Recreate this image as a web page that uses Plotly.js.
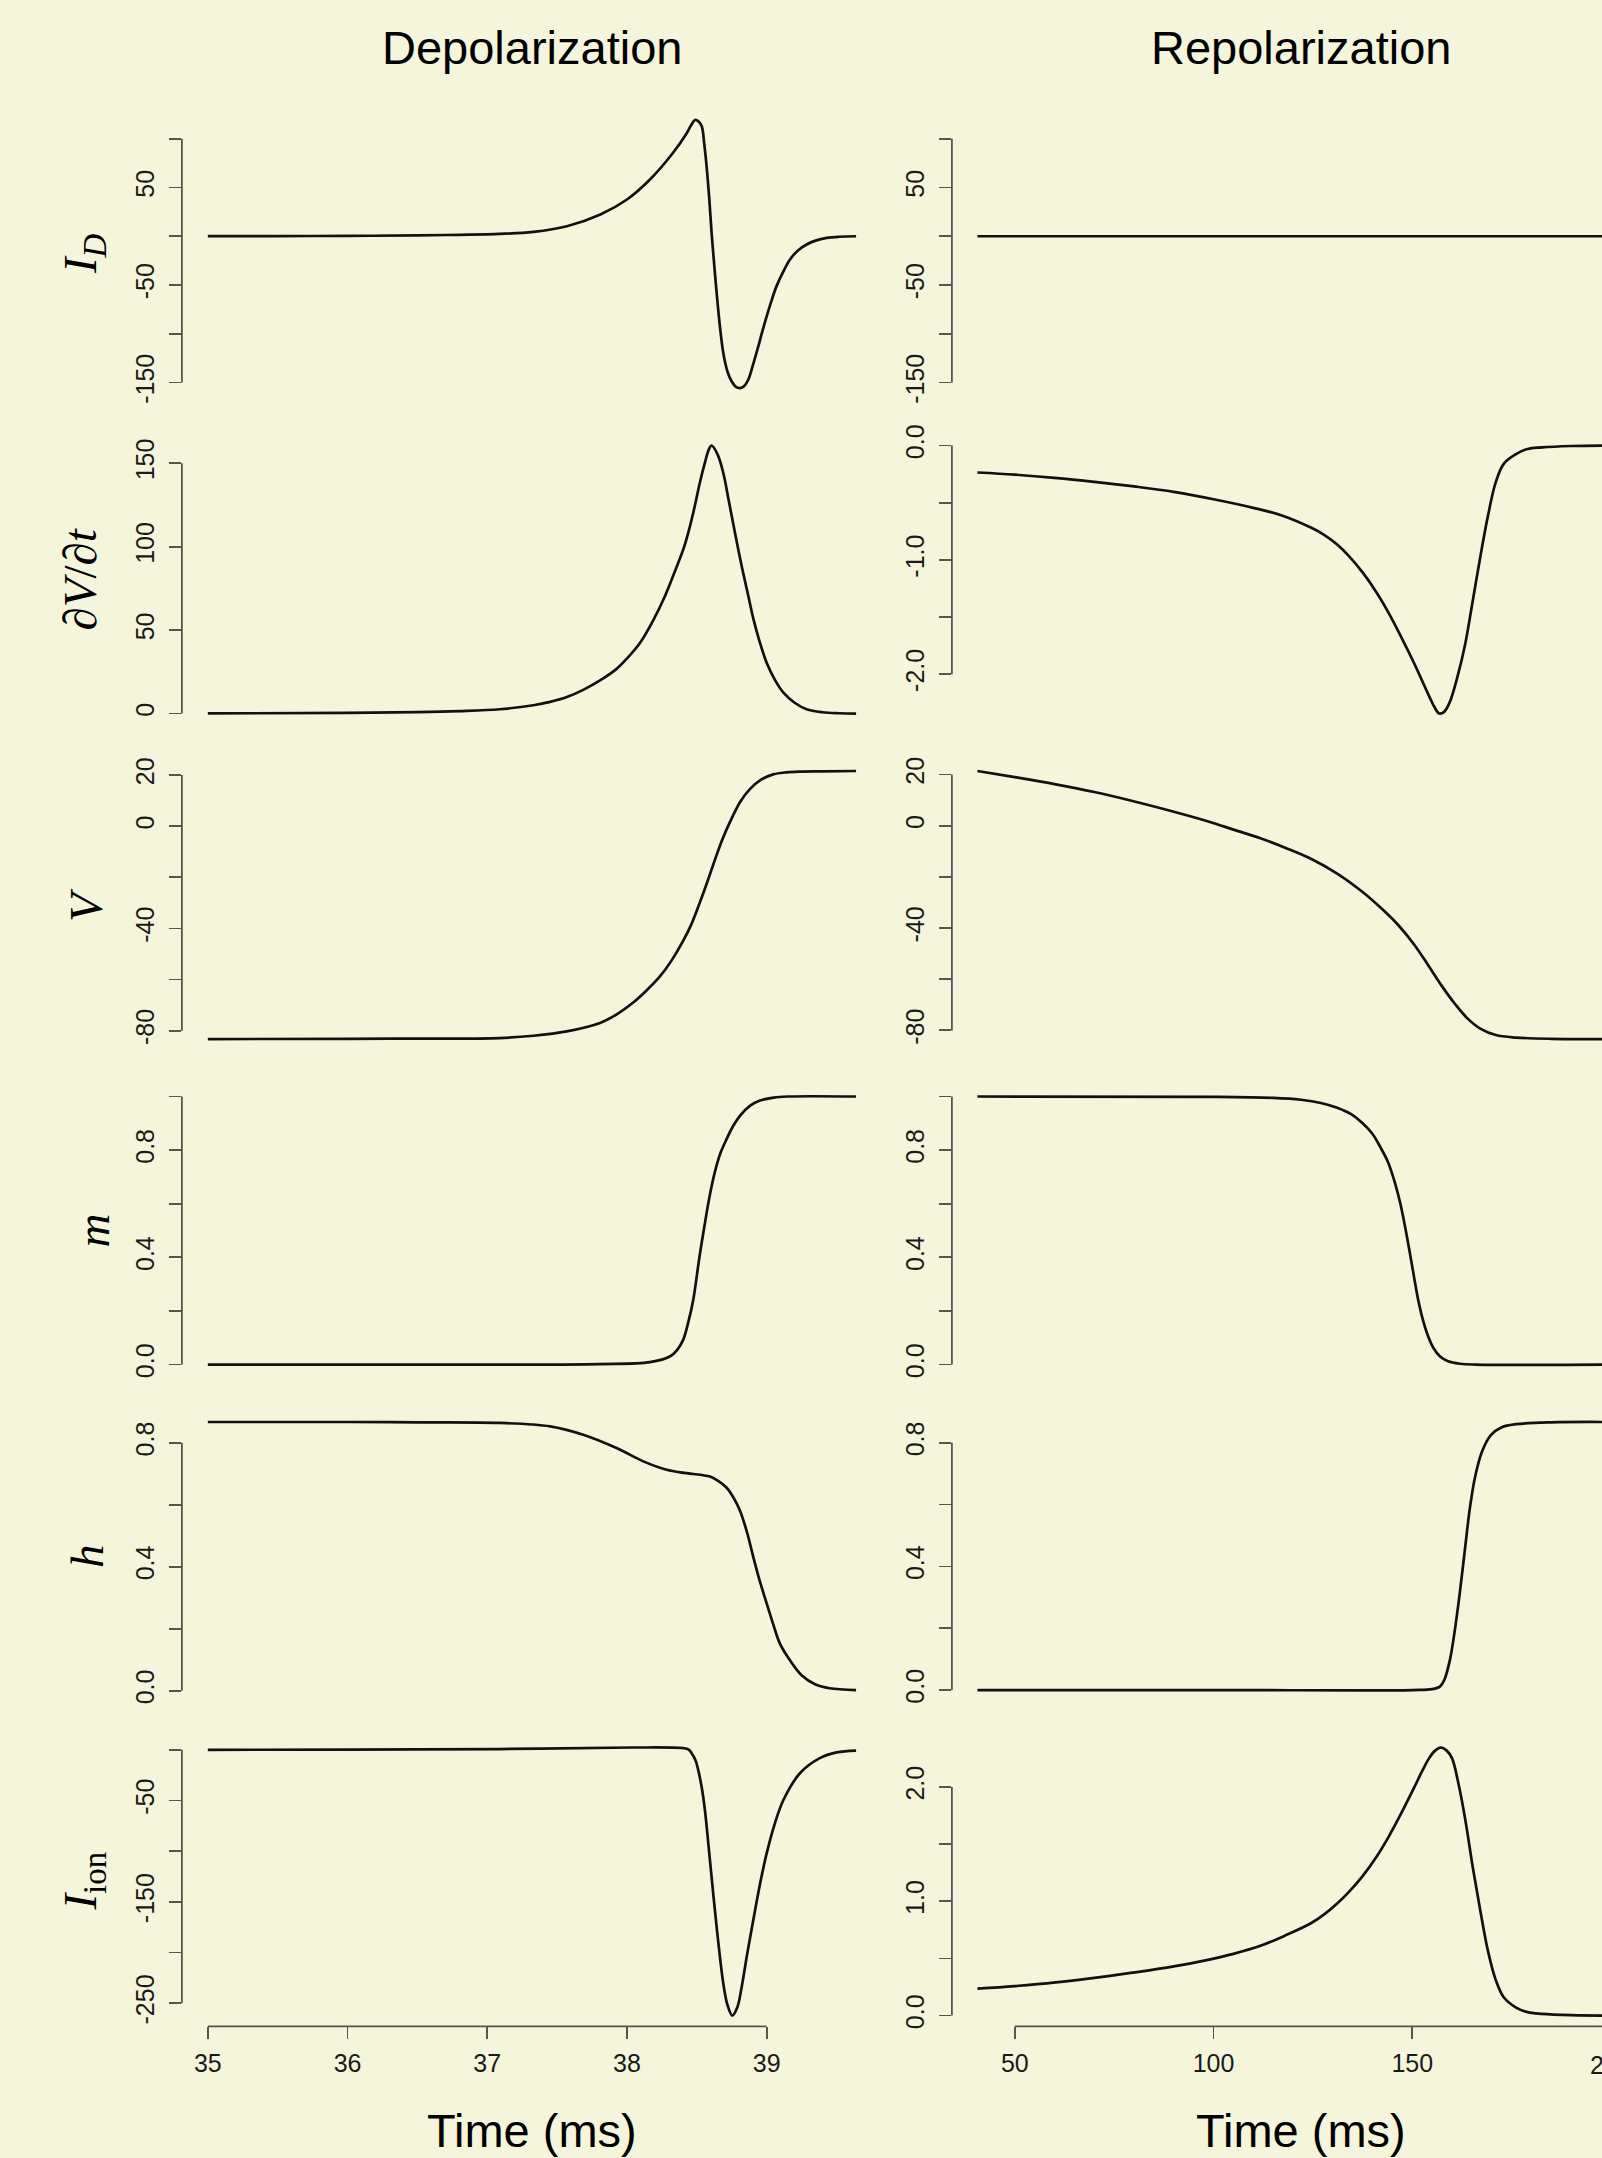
<!DOCTYPE html>
<html>
<head>
<meta charset="utf-8">
<script src="https://cdn.plot.ly/plotly-3.0.1.min.js"></script>
<style>
  html, body { margin: 0; padding: 0; background: #F5F5DC; }
  #chart { width: 1602px; height: 2158px; }
</style>
</head>
<body>
<div id="chart"></div>
<script>
// ---------------- DATA ----------------
// Depolarization column (time in ms)
const tDepID = [35, 35.5, 36, 36.5, 36.8, 37.09, 37.33, 37.57, 37.81, 38.0, 38.165, 38.33, 38.43, 38.46, 38.487, 38.51, 38.535, 38.553, 38.57, 38.59, 38.606, 38.625, 38.642, 38.665, 38.69, 38.72, 38.75, 38.78, 38.81, 38.84, 38.868, 38.9, 38.94, 38.97, 39.0, 39.035, 39.07, 39.12, 39.167, 39.22, 39.286, 39.35, 39.43, 39.52, 39.64];
const depID  = [0.1, 0.2, 0.4, 0.9, 1.5, 2.4, 4.5, 10.3, 22.3, 37.7, 58.2, 85.6, 106.2, 114, 119.2, 118, 113, 95, 72, 37, 3.5, -30, -58, -92, -120, -139, -149, -154.5, -155.7, -153.5, -147.2, -133, -113, -97, -82.2, -66, -51.4, -36, -23.9, -15, -8.5, -4.5, -1.7, -0.5, 0];

const tDepDV = [35, 36, 36.5, 36.8, 37.09, 37.33, 37.45, 37.57, 37.687, 37.81, 37.926, 38.0, 38.093, 38.19, 38.27, 38.356, 38.41, 38.45, 38.49, 38.52, 38.56, 38.585, 38.606, 38.65, 38.69, 38.73, 38.76, 38.8, 38.83, 38.87, 38.904, 38.95, 39.0, 39.06, 39.12, 39.2, 39.286, 39.4, 39.52, 39.64];
const depDV  = [0.1, 0.4, 0.9, 1.5, 2.6, 5.0, 7.0, 9.9, 14.2, 20, 26.8, 33, 42.3, 56.2, 70, 88, 100, 111.9, 126, 137.7, 151, 158, 160.6, 155, 144, 127, 114, 97, 85, 70, 57, 43, 30.4, 20, 12.5, 6.5, 2.6, 0.8, 0.2, 0];

const tDepV = [35, 36, 36.5, 37.09, 37.33, 37.568, 37.807, 37.93, 38.045, 38.14, 38.236, 38.32, 38.403, 38.46, 38.52, 38.57, 38.618, 38.68, 38.737, 38.81, 38.88, 38.96, 39.047, 39.14, 39.238, 39.4, 39.64];
const depV  = [-83.3, -83.2, -83.1, -82.9, -82.0, -80.3, -77, -73.5, -69, -64.3, -58.8, -52.5, -44.8, -38.5, -30.1, -22.6, -15, -5.6, 1.6, 9.5, 14.5, 18.2, 20.3, 21.1, 21.4, 21.5, 21.6];

const tDepM = [35, 37.09, 37.8, 38.165, 38.31, 38.36, 38.403, 38.44, 38.475, 38.52, 38.57, 38.6, 38.63, 38.67, 38.714, 38.76, 38.81, 38.88, 38.952, 39.05, 39.15, 39.64];
const depM  = [0, 0, 0.002, 0.009, 0.031, 0.055, 0.093, 0.16, 0.243, 0.405, 0.565, 0.65, 0.72, 0.79, 0.842, 0.89, 0.929, 0.965, 0.985, 0.996, 1.0, 1.0];

const tDepH = [35, 36, 36.5, 37.09, 37.45, 37.687, 37.926, 38.117, 38.284, 38.427, 38.594, 38.65, 38.714, 38.76, 38.81, 38.86, 38.904, 38.95, 39.0, 39.05, 39.095, 39.167, 39.25, 39.35, 39.45, 39.64];
const depH  = [0.867, 0.867, 0.866, 0.864, 0.853, 0.826, 0.783, 0.740, 0.713, 0.702, 0.691, 0.678, 0.655, 0.625, 0.58, 0.51, 0.432, 0.355, 0.282, 0.21, 0.152, 0.098, 0.05, 0.02, 0.008, 0.002];

const tDepI = [35, 36, 37.09, 38.045, 38.403, 38.44, 38.463, 38.49, 38.51, 38.535, 38.558, 38.594, 38.642, 38.69, 38.72, 38.754, 38.79, 38.821, 38.86, 38.904, 38.95, 39.0, 39.06, 39.12, 39.238, 39.38, 39.5, 39.64];
const depI  = [0, 0.3, 0.8, 2.3, 1.7, 0.5, -3.3, -10, -19.8, -37, -59.4, -108.8, -174.8, -230.8, -252, -262.2, -254, -234.2, -202, -168.2, -134, -102.2, -72, -49.5, -23.1, -8.2, -2.5, -0.7];

// Repolarization column (time in ms)
const tRepID = [40.6, 80, 120, 160, 200];
const repID  = [0, 0, 0, 0, 0];

const tRepDV = [40.6, 50, 60, 70, 80, 90, 100, 110, 117, 124.6, 128, 131.1, 134, 137.5, 141, 143.9, 147, 150.4, 152.5, 154.2, 155.6, 156.8, 158, 159.4, 161.3, 163.3, 165.2, 167.1, 169, 171, 173, 176.1, 179, 182.6, 190, 200];
const repDV  = [-0.236, -0.255, -0.283, -0.318, -0.358, -0.405, -0.47, -0.545, -0.61, -0.72, -0.785, -0.866, -0.965, -1.11, -1.285, -1.455, -1.66, -1.9, -2.06, -2.19, -2.29, -2.345, -2.33, -2.247, -2.03, -1.738, -1.36, -0.975, -0.62, -0.32, -0.16, -0.075, -0.03, -0.016, -0.004, 0];

const tRepV = [40.6, 50, 60.3, 70, 79.6, 90, 98.9, 105, 111.8, 118, 124.6, 131, 137.5, 142, 146.5, 150.5, 154.2, 157.5, 160.7, 163.8, 167.1, 171, 176.1, 185, 200];
const repV  = [21.4, 19, 16.2, 13.2, 9.7, 5.5, 1.6, -1.5, -4.9, -8.6, -13, -18.6, -25.9, -32, -38.9, -46.5, -55, -62.8, -69.6, -75.2, -79.3, -81.8, -82.8, -83.3, -83.4];

const tRepM = [40.6, 100, 115, 122, 127, 131.1, 134.5, 137.5, 140, 142, 143.9, 145.6, 147, 148.3, 149.4, 150.4, 151.5, 152.7, 154, 155.4, 157, 159, 162, 166, 200];
const repM  = [1.0, 0.999, 0.995, 0.988, 0.976, 0.958, 0.935, 0.9, 0.86, 0.81, 0.755, 0.68, 0.6, 0.505, 0.415, 0.33, 0.24, 0.165, 0.105, 0.06, 0.03, 0.012, 0.003, 0, 0];

const tRepH = [40.6, 100, 150, 155, 157, 158.1, 159.5, 160.7, 162, 163.3, 164.5, 165.8, 167.5, 169.7, 172.5, 176.1, 185, 200];
const repH  = [0, 0, 0, 0.003, 0.012, 0.034, 0.1, 0.194, 0.32, 0.462, 0.59, 0.69, 0.77, 0.824, 0.85, 0.86, 0.866, 0.867];

const tRepI = [40.6, 50, 60.3, 70, 79.6, 90, 98.9, 105, 111.8, 118, 124.6, 128, 131.1, 134, 137.5, 141, 143.9, 147, 150.4, 152.5, 154.2, 155.8, 157.2, 158.6, 160, 161.6, 163.3, 165.2, 167.1, 169, 171, 173, 176.1, 179, 182.6, 190, 200];
const repI  = [0.236, 0.258, 0.29, 0.33, 0.375, 0.43, 0.49, 0.54, 0.61, 0.7, 0.81, 0.89, 0.98, 1.08, 1.22, 1.39, 1.555, 1.755, 1.99, 2.14, 2.25, 2.32, 2.345, 2.32, 2.25, 2.03, 1.72, 1.3, 0.92, 0.57, 0.31, 0.16, 0.07, 0.03, 0.015, 0.004, 0];

// Tick values and labels ('' = tick drawn without a label, as in the original)
const tickID   = [-150, -100, -50, 0, 50, 100];
const labID    = ['-150', '', '-50', '', '50', ''];
const tickDVd  = [0, 50, 100, 150];
const labDVd   = ['0', '50', '100', '150'];
const tickDVr  = [-2.0, -1.5, -1.0, -0.5, 0.0];
const labDVr   = ['-2.0', '', '-1.0', '', '0.0'];
const tickV    = [-80, -60, -40, -20, 0, 20];
const labV     = ['-80', '', '-40', '', '0', '20'];
const tickM    = [0, 0.2, 0.4, 0.6, 0.8, 1.0];
const labM     = ['0.0', '', '0.4', '', '0.8', ''];
const tickH    = [0, 0.2, 0.4, 0.6, 0.8];
const labH     = ['0.0', '', '0.4', '', '0.8'];
const tickId   = [-250, -200, -150, -100, -50, 0];
const labId    = ['-250', '', '-150', '', '-50', ''];
const tickIr   = [0, 0.5, 1.0, 1.5, 2.0];
const labIr    = ['0.0', '', '1.0', '', '2.0'];
const tickTdep = [35, 36, 37, 38, 39];
const tickTrep = [50, 100, 150, 200];

const colTitles = ['Depolarization', 'Repolarization'];
const rowLabels = ['<i>I<sub>D</sub></i>', '\u2202<i>V</i>/\u2202<i>t</i>', '<i>V</i>', '<i>m</i>', '<i>h</i>', '<i>I</i><sub>ion</sub>'];
const xLabel = 'Time (ms)';

// ---------------- LAYOUT ----------------
const W = 1602, H = 2158;
const bg = '#F5F5DC';
const ink = '#111111';
const axisCol = '#555555';
const sans = 'Liberation Sans, Arial, Helvetica, sans-serif';
const serif = 'Liberation Serif, Times New Roman, serif';

function ext(arrs) {
  let lo = Infinity, hi = -Infinity;
  arrs.forEach(a => a.forEach(v => { lo = Math.min(lo, v); hi = Math.max(hi, v); }));
  const d = (hi - lo) * 0.04;
  return [lo - d, hi + d];
}

const leftPx = [181.9, 882];
const rightPx = [951.9, W];
const leftDom = [leftPx[0] / W, leftPx[1] / W];
const rightDom = [rightPx[0] / W, 1];
const rowTop0 = 109.3, rowPitch = 325.5, rowH = 289.5;
function rowDom(k) {
  const top = rowTop0 + k * rowPitch;
  return [1 - (top + rowH) / H, 1 - top / H];
}

const xRangeDep = ext([tDepID, tDepDV, tDepV, tDepM, tDepH, tDepI]);
const xRangeRep = [34.18, 197.72];

const panels = [
  {t: tDepID, v: depID, yr: ext([depID]), tv: tickID, tt: labID, col: 0},
  {t: tDepDV, v: depDV, yr: ext([depDV]), tv: tickDVd, tt: labDVd, col: 0},
  {t: tDepV,  v: depV,  yr: ext([depV]),  tv: tickV,  tt: labV,  col: 0},
  {t: tDepM,  v: depM,  yr: ext([depM]),  tv: tickM,  tt: labM,  col: 0},
  {t: tDepH,  v: depH,  yr: ext([depH]),  tv: tickH,  tt: labH,  col: 0},
  {t: tDepI,  v: depI,  yr: ext([depI]),  tv: tickId, tt: labId, col: 0},
  {t: tRepID, v: repID, yr: ext([depID, repID]), tv: tickID, tt: labID, col: 1},
  {t: tRepDV, v: repDV, yr: ext([repDV]), tv: tickDVr, tt: labDVr, col: 1},
  {t: tRepV,  v: repV,  yr: ext([repV]),  tv: tickV,  tt: labV,  col: 1},
  {t: tRepM,  v: repM,  yr: ext([repM]),  tv: tickM,  tt: labM,  col: 1},
  {t: tRepH,  v: repH,  yr: ext([repH]),  tv: tickH,  tt: labH,  col: 1},
  {t: tRepI,  v: repI,  yr: ext([repI]),  tv: tickIr, tt: labIr, col: 1}
];

const tickStyle = {ticks: 'outside', ticklen: 12, tickwidth: 1.8, tickcolor: axisCol};
const tickFont = {family: sans, size: 25, color: '#1a1a1a'};

const data = [];
const layout = {
  width: W, height: H,
  margin: {l: 0, r: 0, t: 0, b: 0, pad: 0},
  paper_bgcolor: bg, plot_bgcolor: bg,
  showlegend: false,
  shapes: [], annotations: []
};

panels.forEach((p, i) => {
  const n = i + 1;
  const xid = n === 1 ? 'x' : 'x' + n;
  const yid = n === 1 ? 'y' : 'y' + n;
  const row = i % 6;
  const bottom = row === 5;
  data.push({
    x: p.t, y: p.v, xaxis: xid, yaxis: yid, type: 'scatter', mode: 'lines',
    line: {color: ink, width: 2.7, shape: 'spline', smoothing: 1.0},
    hoverinfo: 'skip'
  });
  const xa = {
    domain: p.col === 0 ? leftDom : rightDom,
    range: p.col === 0 ? xRangeDep : xRangeRep,
    anchor: yid, showgrid: false, zeroline: false, showline: false, fixedrange: true
  };
  if (bottom) {
    Object.assign(xa, tickStyle, {
      tickmode: 'array',
      tickvals: p.col === 0 ? tickTdep : tickTrep,
      tickfont: tickFont, ticklabelstandoff: 3
    });
  } else {
    xa.visible = false;
  }
  layout['xaxis' + (n === 1 ? '' : n)] = xa;
  const major = p.tv.filter((v, j) => p.tt[j] !== '');
  const majorTxt = p.tt.filter(s => s !== '');
  const minor = p.tv.filter((v, j) => p.tt[j] === '');
  const ya = Object.assign({
    domain: rowDom(row), range: p.yr, anchor: xid,
    tickmode: 'array', tickvals: major, ticktext: majorTxt, tickangle: -90,
    tickfont: tickFont, ticklabelstandoff: 5,
    showgrid: false, zeroline: false, showline: false, fixedrange: true
  }, tickStyle);
  if (minor.length) {
    ya.minor = Object.assign({tickmode: 'array', tickvals: minor, showgrid: false}, tickStyle);
  }
  layout['yaxis' + (n === 1 ? '' : n)] = ya;
  // R-style axis line spanning first to last tick
  layout.shapes.push({
    type: 'line', xref: xid + ' domain', yref: yid, x0: 0, x1: 0,
    y0: Math.min(...p.tv), y1: Math.max(...p.tv),
    line: {color: axisCol, width: 1.8}
  });
  if (bottom) {
    const tv = p.col === 0 ? tickTdep : tickTrep;
    layout.shapes.push({
      type: 'line', xref: xid, yref: yid + ' domain', y0: 0, y1: 0,
      x0: Math.min(...tv), x1: Math.max(...tv),
      line: {color: axisCol, width: 1.8}
    });
  }
});

// Column titles and x labels
const colCenters = [(leftPx[0] + leftPx[1]) / 2 / W, 1300.5 / W];
colTitles.forEach((txt, c) => {
  layout.annotations.push({
    text: txt, xref: 'paper', yref: 'paper', x: colCenters[c], y: 1 - 48 / H,
    xanchor: 'center', yanchor: 'middle', showarrow: false,
    font: {family: sans, size: 47, color: '#000'}
  });
  layout.annotations.push({
    text: xLabel, xref: 'paper', yref: 'paper', x: colCenters[c], y: 0,
    xanchor: 'center', yanchor: 'bottom', showarrow: false, borderpad: 0,
    font: {family: sans, size: 47, color: '#000'}
  });
});

// Row labels (left side only)
const labX = [83, 80, 86, 93, 87, 84];
rowLabels.forEach((txt, r) => {
  const d = rowDom(r);
  layout.annotations.push({
    text: txt, xref: 'paper', yref: 'paper', x: labX[r] / W, y: (d[0] + d[1]) / 2,
    xanchor: 'center', yanchor: 'middle', textangle: -90, showarrow: false,
    font: {family: serif, size: 47, color: '#000'}
  });
});

// The last time tick of the right column lies past the page edge; its label is partly visible
const lastRep = tickTrep[tickTrep.length - 1];
const pxPerMs = (rightPx[1] - rightPx[0]) / (xRangeRep[1] - xRangeRep[0]);
const lastPx = rightPx[0] + (lastRep - xRangeRep[0]) * pxPerMs;
layout.annotations.push({
  text: String(lastRep), xref: 'paper', yref: 'paper', x: lastPx / W, y: 1 - 2065 / H,
  xanchor: 'center', yanchor: 'middle', showarrow: false,
  font: tickFont
});

Plotly.newPlot('chart', data, layout, {staticPlot: true, displayModeBar: false});
</script>
</body>
</html>
